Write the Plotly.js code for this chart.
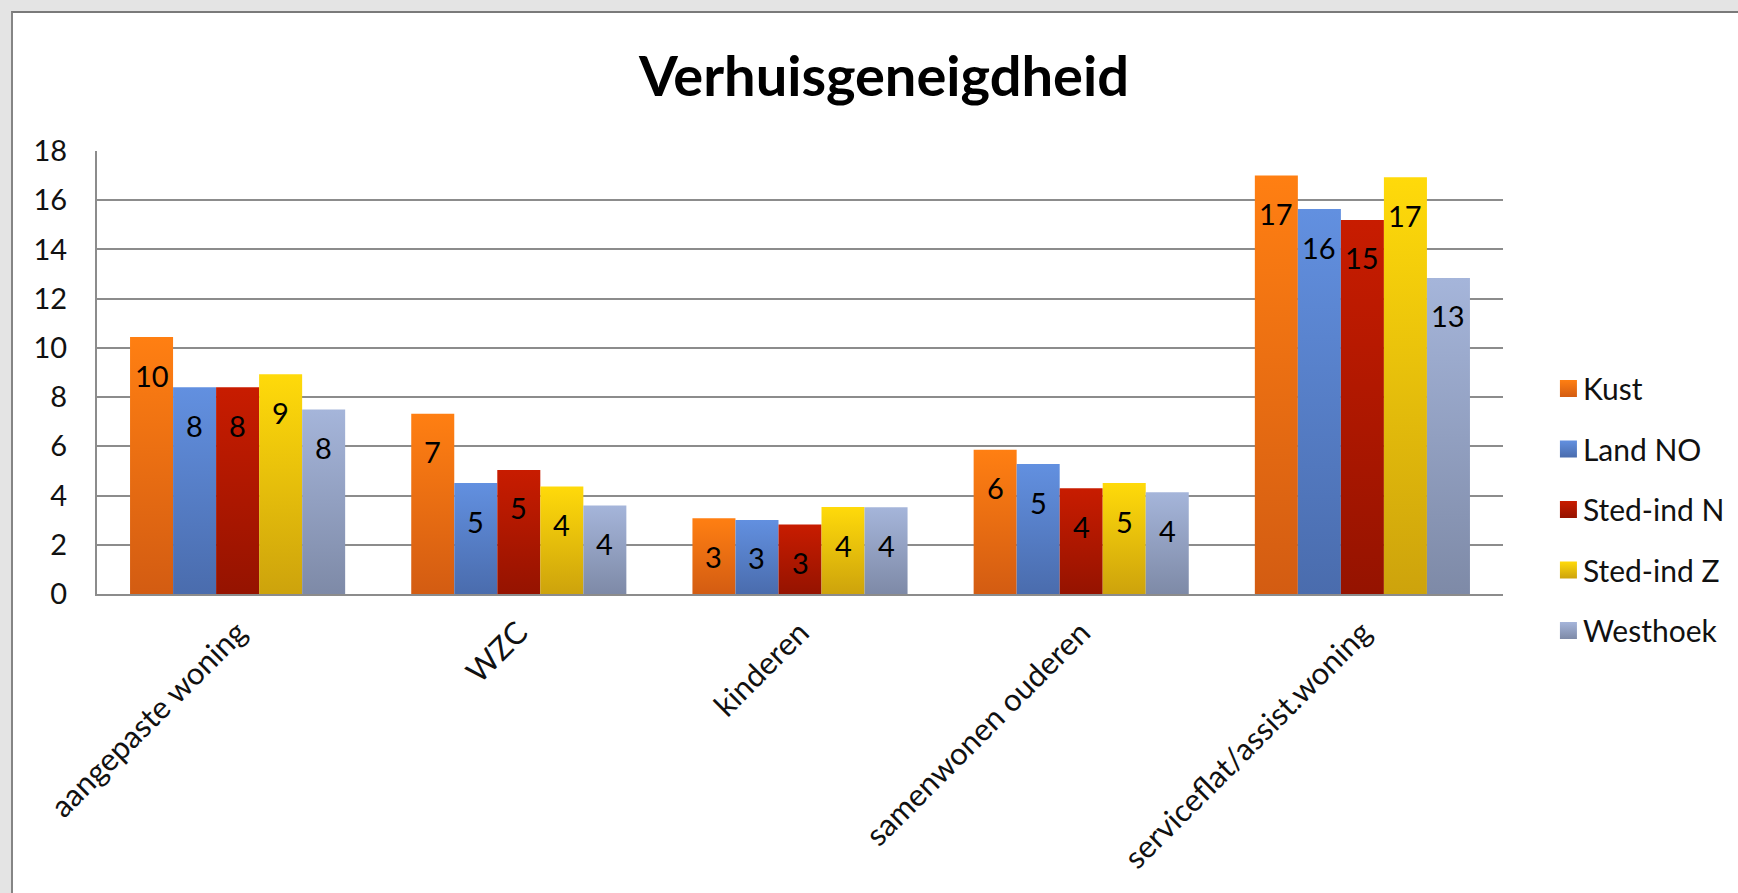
<!DOCTYPE html>
<html>
<head>
<meta charset="utf-8">
<script src="https://cdn.plot.ly/plotly-3.0.1.min.js"></script>
<style>
  html, body { margin:0; padding:0; width:1738px; height:893px; overflow:hidden; background:#e4e4e4; }
  #frame { position:absolute; left:11px; top:11px; width:1800px; height:950px; background:#ffffff;
           border-left:2px solid #858585; border-top:2px solid #7a7a7a; }
  #chart { position:absolute; left:0; top:0; width:1738px; height:893px; }
</style>
</head>
<body>
<div id="frame"></div>
<div id="chart"></div>
<script>
// ---- data ----
const categories = ["aangepaste woning", "WZC", "kinderen", "samenwonen ouderen", "serviceflat/assist.woning"];
const seriesNames = ["Kust", "Land NO", "Sted-ind N", "Sted-ind Z", "Westhoek"];
const kust      = [10.44, 7.32, 3.08, 5.86, 17.0];
const landNO    = [8.40, 4.51, 3.01, 5.28, 15.64];
const stedIndN  = [8.40, 5.04, 2.82, 4.30, 15.20];
const stedIndZ  = [8.93, 4.37, 3.53, 4.51, 16.93];
const westhoek  = [7.50, 3.60, 3.52, 4.13, 12.84];
const seriesValues = [kust, landNO, stedIndN, stedIndZ, westhoek];
const yTicks = [0, 2, 4, 6, 8, 10, 12, 14, 16, 18];

// ---- styles ----
const topColors    = ["#FF7F12", "#6290E0", "#C81C00", "#FFDA0A", "#A5B5DA"];
const bottomColors = ["#D35C12", "#4A6CAD", "#951300", "#CDA30C", "#7E8AA7"];
const midColors    = ["#EA6E12", "#5680C8", "#B01800", "#E8C00B", "#92A0C0"];
const FONT = "Lato, 'Open Sans', sans-serif";
const bargap = 0.235;

const catIdx = categories.map((c, i) => i);

const data = seriesNames.map((name, si) => ({
  type: "bar",
  name: name,
  x: catIdx,
  y: seriesValues[si],
  legendgroup: "g" + si,
  marker: { color: midColors[si], line: { width: 0 } },
  hoverinfo: "skip"
}));

const nS = seriesNames.length;
const barW = (1 - bargap) / nS;
const annotations = [];
seriesValues.forEach((vals, si) => {
  vals.forEach((v, ci) => {
    annotations.push({
      x: ci + (si - (nS - 1) / 2) * barW,
      y: v,
      xref: "x", yref: "y",
      text: String(Math.round(v)),
      showarrow: false,
      yanchor: "middle",
      xanchor: "center",
      yshift: -38,
      font: { family: FONT, size: 29, color: "#000000" }
    });
  });
});

const layout = {
  width: 1738,
  height: 893,
  paper_bgcolor: "rgba(0,0,0,0)",
  plot_bgcolor: "rgba(0,0,0,0)",
  margin: { l: 97, r: 235, t: 151, b: 299, pad: 0, autoexpand: false },
  title: {
    text: "<b>Verhuisgeneigdheid</b>",
    font: { family: FONT, size: 56, color: "#000000" },
    xref: "container", yref: "container",
    x: 0.5086, xanchor: "center",
    y: 0.915, yanchor: "middle"
  },
  barmode: "group",
  bargap: bargap,
  bargroupgap: 0,
  showlegend: true,
  legend: {
    x: 1.0284, xanchor: "left",
    y: 0.5225, yanchor: "top",
    traceorder: "grouped",
    tracegroupgap: 18.5,
    font: { family: FONT, size: 30, color: "#111111" },
    bgcolor: "rgba(0,0,0,0)"
  },
  xaxis: {
    range: [-0.5, categories.length - 0.5],
    tickmode: "array",
    tickvals: catIdx,
    ticktext: categories,
    tickangle: -45,
    tickfont: { family: FONT, size: 31, color: "#111111" },
    showgrid: false,
    zeroline: false,
    showline: true,
    linecolor: "#8c8c8c",
    linewidth: 2,
    ticks: "",
    ticklabelstandoff: 6,
    fixedrange: true
  },
  yaxis: {
    range: [0, 18],
    tickmode: "array",
    tickvals: yTicks,
    ticktext: yTicks.map(String),
    tickfont: { family: FONT, size: 29, color: "#111111" },
    showgrid: true,
    gridcolor: "#8c8c8c",
    gridwidth: 2,
    zeroline: false,
    showline: true,
    linecolor: "#8c8c8c",
    linewidth: 2,
    ticks: "",
    ticklabelstandoff: 22,
    fixedrange: true
  },
  annotations: annotations
};

const gd = document.getElementById("chart");
Plotly.newPlot(gd, data, layout, { staticPlot: true, displayModeBar: false }).then(applyGradients);

function applyGradients() {
  const ns = "http://www.w3.org/2000/svg";
  const svg = gd.querySelector("svg.main-svg");
  let defs = svg.querySelector("defs");
  if (!defs) { defs = document.createElementNS(ns, "defs"); svg.insertBefore(defs, svg.firstChild); }
  seriesNames.forEach((n, i) => {
    const lg = document.createElementNS(ns, "linearGradient");
    lg.setAttribute("id", "bargrad" + i);
    lg.setAttribute("x1", "0"); lg.setAttribute("y1", "0");
    lg.setAttribute("x2", "0"); lg.setAttribute("y2", "1");
    [[0, topColors[i]], [1, bottomColors[i]]].forEach(([o, c]) => {
      const s = document.createElementNS(ns, "stop");
      s.setAttribute("offset", o);
      s.setAttribute("stop-color", c);
      lg.appendChild(s);
    });
    defs.appendChild(lg);
  });
  gd.querySelectorAll(".barlayer .trace").forEach((tr, i) => {
    tr.querySelectorAll("path").forEach(p => { p.style.fill = "url(#bargrad" + i + ")"; });
  });
  gd.querySelectorAll(".legend .traces").forEach((tr, i) => {
    const txt = tr.querySelector("text.legendtext");
    const textX = txt ? parseFloat(txt.getAttribute("x")) || 40 : 40;
    const half = 8.5;
    const cx = textX - 6 - half;
    tr.querySelectorAll(".legendpoints path").forEach(p => {
      p.style.fill = "url(#bargrad" + i + ")";
      p.setAttribute("d", "M" + half + "," + half + "H" + (-half) + "V" + (-half) + "H" + half + "Z");
      p.setAttribute("transform", "translate(" + cx + ",0)");
    });
  });
}
</script>
</body>
</html>
